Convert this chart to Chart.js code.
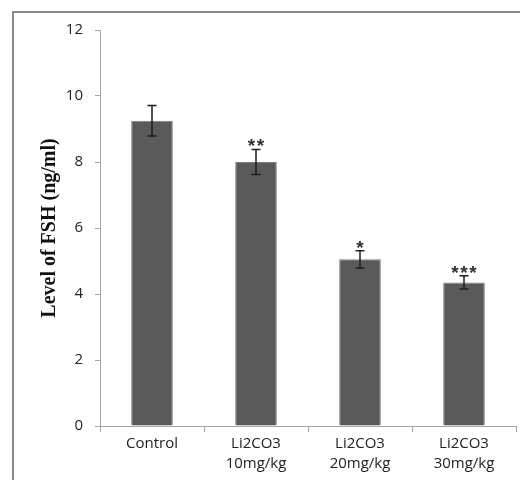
<!DOCTYPE html>
<html>
<head>
<meta charset="utf-8">
<script src="https://cdn.jsdelivr.net/npm/chart.js@4/dist/chart.umd.min.js"></script>
<style>
html,body{margin:0;padding:0;background:#fff;}
#wrap{width:520px;height:480px;position:relative;}
</style>
</head>
<body>
<div id="wrap"><canvas id="c" width="520" height="480"></canvas></div>
<script>
const categories = [["Control"], ["Li2CO3", "10mg/kg"], ["Li2CO3", "20mg/kg"], ["Li2CO3", "30mg/kg"]];
const fshValues = [9.25, 8.0, 5.05, 4.35];
const fshErrors = [0.46, 0.38, 0.26, 0.2];
const significance = ["", "**", "*", "***"];
const yTicks = [0, 2, 4, 6, 8, 10, 12];

const extras = {
  id: 'extras',
  beforeDraw(chart) {
    const ctx = chart.ctx;
    ctx.save();
    ctx.strokeStyle = '#8a8a8a';
    ctx.lineWidth = 2;
    ctx.beginPath();
    ctx.moveTo(13, 482);
    ctx.lineTo(13, 12);
    ctx.lineTo(522, 12);
    ctx.stroke();
    ctx.restore();
  },
  afterDatasetsDraw(chart) {
    const ctx = chart.ctx;
    const meta = chart.getDatasetMeta(0);
    const y = chart.scales.y;
    ctx.save();
    ctx.strokeStyle = '#1e1e1e';
    ctx.lineWidth = 1.5;
    meta.data.forEach((bar, i) => {
      const x = bar.x;
      const top = y.getPixelForValue(fshValues[i] + fshErrors[i]);
      const bot = y.getPixelForValue(fshValues[i] - fshErrors[i]);
      ctx.beginPath();
      ctx.moveTo(x, top); ctx.lineTo(x, bot);
      ctx.moveTo(x - 4.5, top); ctx.lineTo(x + 4.5, top);
      ctx.moveTo(x - 4.5, bot); ctx.lineTo(x + 4.5, bot);
      ctx.stroke();
      const n = significance[i].length;
      if (n) {
        ctx.fillStyle = '#333';
        ctx.font = 'bold 19px "Liberation Sans"';
        ctx.textAlign = 'center';
        ctx.textBaseline = 'alphabetic';
        for (let k = 0; k < n; k++) {
          const sx = x + (k - (n - 1) / 2) * 9;
          ctx.fillText('*', sx, top + 3);
        }
      }
    });
    ctx.restore();
  }
};

new Chart(document.getElementById('c'), {
  type: 'bar',
  data: {
    labels: categories,
    datasets: [{
      data: fshValues,
      backgroundColor: '#5a5a5a',
      borderColor: '#808080',
      borderWidth: 1,
      barPercentage: 0.4,
      categoryPercentage: 1.0
    }]
  },
  options: {
    responsive: false,
    animation: false,
    devicePixelRatio: 1,
    layout: { padding: { top: 30, right: 4, left: 0, bottom: 0 } },
    plugins: { legend: { display: false }, tooltip: { enabled: false } },
    scales: {
      x: {
        grid: { display: true, drawOnChartArea: false, offset: true, tickLength: 6, color: '#a6a6a6' },
        border: { color: '#a6a6a6', width: 1 },
        ticks: { color: '#222', font: { family: '"Open Sans"', size: 15, lineHeight: 1.3 }, padding: 2, maxRotation: 0, autoSkip: false },
        afterFit(scale) { scale.height = 54; }
      },
      y: {
        min: 0, max: 12,
        afterBuildTicks(scale) { scale.ticks = yTicks.map(v => ({ value: v })); },
        grid: { display: true, drawOnChartArea: false, tickLength: 5, color: '#a6a6a6' },
        border: { color: '#a6a6a6', width: 1 },
        ticks: { color: '#222', font: { family: '"Open Sans"', size: 15 }, padding: 12 },
        title: { display: true, text: 'Level of FSH (ng/ml)', color: '#111', font: { family: '"Liberation Serif"', size: 20, weight: 'bold', lineHeight: 1.2 }, padding: { top: 38, bottom: 0 } },
        afterFit(scale) { scale.width = 100; }
      }
    }
  },
  plugins: [extras]
});
</script>
</body>
</html>
